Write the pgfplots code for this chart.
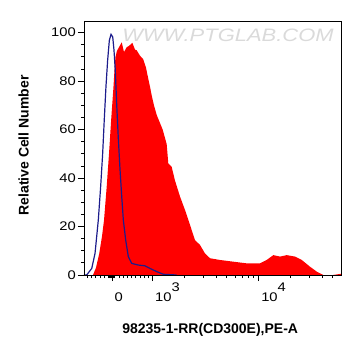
\documentclass[border=0pt]{standalone}
\usepackage{fontspec}
\setmainfont{Liberation Sans}
\usepackage{graphicx}
\usepackage{pgfplots}
\pgfplotsset{compat=1.18}
\definecolor{ctrlblue}{RGB}{28,28,140}
\definecolor{wmgray}{RGB}{218,218,218}
\newcommand{\tl}[1]{\scalebox{1.18}[1]{\fontsize{12.5}{14}\selectfont #1}}

\pgfplotstableread{
u val
2.437 0
2.465 3
2.496 8.9
2.522 16
2.541 22.7
2.566 36.4
2.588 50.1
2.608 63.9
2.630 77.6
2.640 85
2.649 90
2.663 92.5
2.682 94
2.708 96
2.729 92
2.755 94
2.776 94.5
2.808 95.8
2.833 93
2.849 92.7
2.880 90.5
2.911 89
2.937 85.5
2.958 81
2.975 77.6
2.991 74
3.012 70
3.038 66
3.094 60
3.132 54
3.147 46
3.179 44.6
3.210 39
3.258 32.3
3.305 26.8
3.368 18.5
3.399 14.4
3.446 12.4
3.493 8.9
3.541 6.9
3.635 6.2
3.760 5.5
3.887 4.8
4.012 4.8
4.075 6.2
4.138 8.2
4.201 7.6
4.264 8.2
4.342 7.6
4.406 6.2
4.484 3.4
4.547 1.4
4.609 0
4.701 0
4.776 0.5
}\sampletable

\pgfplotstableread{
u val
2.352 0
2.377 0
2.425 2.7
2.456 8.9
2.487 22.7
2.509 36.4
2.528 50.1
2.543 63.9
2.559 77.6
2.575 88.6
2.591 96.8
2.607 99.3
2.623 98.2
2.635 92.7
2.647 84.5
2.660 70.8
2.675 57
2.692 43.3
2.708 32.3
2.723 22.7
2.745 14.5
2.770 7.6
2.802 4.8
2.864 4.1
2.927 3.8
2.975 2.7
3.038 1.4
3.100 0.3
3.226 0
}\controltable

\begin{document}
\begin{tikzpicture}
\useasboundingbox (-84pt,-81pt) rectangle (277pt,275pt);
\begin{axis}[
  at={(0pt,0pt)}, anchor=south west,
  scale only axis, width=257pt, height=254pt,
  xmin=2.352, xmax=4.776, ymin=0, ymax=104.8,
  axis on top,
  axis line style={line width=0.8pt},
  tick align=outside, tick pos=left,
  major tick length=6pt, minor tick length=3pt,
  every tick/.style={black, line width=0.8pt},
  xtick={2.618,3,4},
  xticklabels={{\tl{0}},{\tl{10\raisebox{10pt}{3}}},{\tl{10\raisebox{10pt}{4}}}},
  minor xtick={2.346,2.384,2.425,2.463,2.503,2.541,2.579,2.588,2.598,2.608,2.628,2.638,2.685,2.723,2.760,2.802,2.840,2.880,2.918,2.958,3.301,3.477,3.602,3.699,3.778,3.845,3.903,3.954,4.301,4.477,4.602,4.699},
  ytick={0,20,40,60,80,100},
  minor ytick={5,10,15,25,30,35,45,50,55,65,70,75,85,90,95},
  yticklabel={\tl{\pgfmathprintnumber[assume math mode=true]{\tick}}},
  xticklabel style={anchor=base west, xshift=-1pt, yshift=-20pt},
  yticklabel style={inner sep=2pt},
  xlabel={98235-1-RR(CD300E),PE-A},
  ylabel={Relative Cell Number},
  xlabel style={font=\bfseries\fontsize{14}{16}\selectfont, at={(axis description cs:0.491,-0.215)}, anchor=center},
  ylabel style={font=\bfseries\fontsize{14}{16}\selectfont, at={(axis description cs:-0.201,0.51)}, anchor=south, rotate=0},
  clip=true,
]
\addplot[fill=red, draw=none] table[x=u, y=val] {\sampletable} \closedcycle;
\addplot[ctrlblue, line width=1.2pt] table[x=u, y=val] {\controltable};
\node[text=wmgray, anchor=center, inner sep=0pt] at (axis cs:3.71,98.9) {\scalebox{1.22}[1]{\itshape\fontsize{18}{20}\selectfont WWW.PTGLAB.COM}};
\end{axis}
\end{tikzpicture}
\end{document}
